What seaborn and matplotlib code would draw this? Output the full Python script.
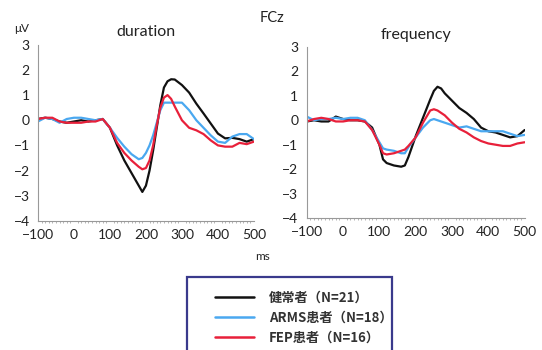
import numpy as np
import pandas as pd
import matplotlib
matplotlib.use("Agg")
import matplotlib.pyplot as plt
from matplotlib.lines import Line2D
from matplotlib.patches import Rectangle
import seaborn as sns

groups = ["健常者（N=21）", "ARMS患者（N=18）", "FEP患者（N=16）"]
colors = ["#111111", "#4aa8f0", "#e8203a"]

dur_time = [-100, -80, -60, -40, -20, 0, 20, 40, 60, 80, 100, 120, 140, 160, 180, 190, 200, 210,
            220, 230, 240, 250, 260, 270, 280, 300, 320, 340, 360, 380, 400, 420, 440, 460, 480, 500]
dur_healthy = [0.05, 0.1, 0.05, -0.05, -0.1, -0.05, 0.0, -0.05, 0.0, 0.05, -0.3, -1.0, -1.6, -2.1, -2.6,
               -2.85, -2.6, -2.0, -1.2, -0.3, 0.6, 1.3, 1.55, 1.63, 1.62, 1.4, 1.1, 0.66, 0.27, -0.13,
               -0.53, -0.72, -0.7, -0.75, -0.85, -0.75]
dur_arms = [-0.05, 0.1, 0.05, -0.1, 0.05, 0.1, 0.1, 0.05, 0.0, 0.05, -0.3, -0.7, -1.05, -1.35, -1.55,
            -1.5, -1.3, -1.0, -0.6, -0.1, 0.4, 0.7, 0.7, 0.7, 0.7, 0.7, 0.4, 0.0, -0.3, -0.6, -0.85,
            -0.9, -0.65, -0.55, -0.55, -0.75]
dur_fep = [0.05, 0.1, 0.1, -0.05, -0.1, -0.1, -0.1, -0.05, -0.05, 0.05, -0.3, -0.9, -1.3, -1.6, -1.85,
           -1.95, -1.9, -1.6, -1.0, -0.2, 0.5, 0.9, 1.0, 0.85, 0.55, 0.0, -0.3, -0.4, -0.55, -0.8,
           -1.0, -1.05, -1.05, -0.9, -0.95, -0.85]

frq_time = [-100, -80, -60, -40, -20, 0, 20, 40, 60, 80, 100, 110, 120, 140, 160, 170, 180, 200, 220,
            240, 250, 260, 270, 280, 300, 320, 340, 360, 380, 400, 420, 440, 460, 480, 500]
frq_healthy = [-0.05, 0.0, -0.05, -0.05, 0.15, 0.05, 0.0, 0.0, -0.05, -0.3, -1.0, -1.6, -1.75, -1.85,
               -1.9, -1.85, -1.5, -0.65, 0.1, 0.85, 1.2, 1.37, 1.3, 1.1, 0.8, 0.5, 0.3, 0.05, -0.3,
               -0.45, -0.5, -0.6, -0.7, -0.65, -0.4]
frq_arms = [0.15, 0.0, 0.05, 0.05, 0.1, 0.05, 0.1, 0.1, 0.0, -0.4, -0.9, -1.15, -1.2, -1.25, -1.35,
            -1.35, -1.1, -0.7, -0.3, 0.0, 0.05, 0.0, -0.05, -0.1, -0.2, -0.3, -0.25, -0.35, -0.45,
            -0.45, -0.45, -0.45, -0.55, -0.65, -0.6]
frq_fep = [-0.05, 0.05, 0.1, 0.05, -0.05, -0.05, 0.0, 0.0, -0.05, -0.4, -1.0, -1.35, -1.4, -1.35, -1.25,
           -1.2, -1.05, -0.7, -0.1, 0.4, 0.45, 0.4, 0.3, 0.2, -0.1, -0.35, -0.5, -0.7, -0.85, -0.95,
           -1.0, -1.05, -1.05, -0.95, -0.9]

x_ticks = [-100, 0, 100, 200, 300, 400, 500]
y_ticks = [-4, -3, -2, -1, 0, 1, 2, 3]


def long_df(t, series):
    rows = []
    for g, vals in zip(groups, series):
        for ti, v in zip(t, vals):
            rows.append((ti, v, g))
    return pd.DataFrame(rows, columns=["time", "value", "group"])


df_dur = long_df(dur_time, [dur_healthy, dur_arms, dur_fep])
df_frq = long_df(frq_time, [frq_healthy, frq_arms, frq_fep])

sns.set_theme(style="white")
plt.rcParams["font.family"] = ["Lato", "Noto Sans CJK JP", "DejaVu Sans"]

fig = plt.figure(figsize=(5.42, 3.5), dpi=100)
fig.patch.set_facecolor("white")
ax1 = fig.add_axes([0.070, 0.369, 0.3985, 0.503])
ax2 = fig.add_axes([0.566, 0.377, 0.402, 0.489])

pal = dict(zip(groups, colors))
for ax, df, title in [(ax1, df_dur, "duration"), (ax2, df_frq, "frequency")]:
    sns.lineplot(data=df, x="time", y="value", hue="group", hue_order=groups, palette=pal,
                 ax=ax, legend=False, linewidth=1.6)
    ax.set_xlim(-100, 500)
    ax.set_ylim(-4, 3)
    ax.set_xticks(x_ticks)
    ax.set_yticks(y_ticks)
    ax.set_xticks(np.arange(-100, 501, 10), minor=True)
    ax.set_xlabel("")
    ax.set_ylabel("")
    for s in ["top", "right"]:
        ax.spines[s].set_visible(False)
    for s in ["left", "bottom"]:
        ax.spines[s].set_color("#999999")
        ax.spines[s].set_linewidth(0.8)
    ax.tick_params(axis="both", which="major", direction="out", length=3, width=0.8,
                   color="#999999", labelsize=10, labelcolor="#222222", pad=3)
    ax.tick_params(axis="x", which="minor", direction="out", length=1.5, width=0.6,
                   color="#aaaaaa", bottom=True)
    ax.set_title(title, fontsize=11.5, color="#222222", pad=6)
    ax.set_facecolor("white")

fig.text(272 / 542, 1 - 18 / 350, "FCz", fontsize=10.5, color="#222222", ha="center", va="center")
fig.text(22 / 542, 1 - 28 / 350, "μV", fontsize=8.5, color="#222222", ha="center", va="center")
fig.text(262 / 542, 1 - 256 / 350, "ms", fontsize=8.5, color="#222222", ha="center", va="center")

rect = Rectangle((187 / 542, -0.01), (392 - 187) / 542, (350 - 277) / 350 + 0.01,
                 transform=fig.transFigure, fill=False, edgecolor="#3a3a8c", linewidth=1.6)
fig.add_artist(rect)
handles = [Line2D([0], [0], color=c, linewidth=1.8) for c in colors]
leg = fig.legend(handles, groups, loc="upper left",
                 bbox_to_anchor=(203 / 542, 1 - 279 / 350), frameon=False,
                 handlelength=3.0, handletextpad=1.1, labelspacing=0.45,
                 prop={"family": ["Noto Sans CJK JP", "DejaVu Sans"], "weight": "bold", "size": 9.5})
for t in leg.get_texts():
    t.set_color("#333333")

fig.savefig("out.png", dpi=100, facecolor="white")
